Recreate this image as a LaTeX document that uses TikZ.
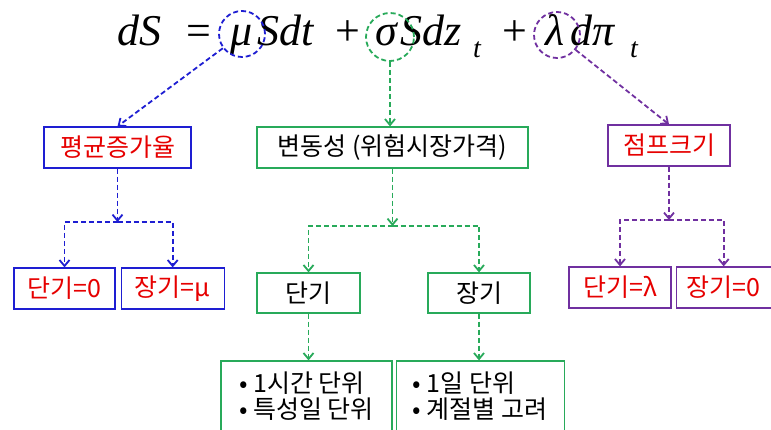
\documentclass[tikz,border=0pt]{standalone}
\usepackage{fontspec}
\usepackage{tikz}
\usetikzlibrary{arrows.meta, positioning}
\newfontfamily\krfont{Noto Sans CJK KR}
\newfontfamily\eqfont{Liberation Serif}
\definecolor{driftblue}{RGB}{30,30,210}
\definecolor{volgreen}{RGB}{40,170,90}
\definecolor{jumppurple}{RGB}{112,48,160}
\definecolor{labelred}{RGB}{230,0,0}

\begin{document}
\begin{tikzpicture}[
    x=1pt, y=-1pt,
    every node/.style={font=\krfont\fontsize{25}{26}\selectfont},
    term/.style={anchor=base west, inner sep=0pt, font=\eqfont\itshape\fontsize{44}{44}\selectfont},
    sign/.style={anchor=base west, inner sep=0pt, font=\eqfont\fontsize{44}{44}\selectfont},
    subterm/.style={anchor=base west, inner sep=0pt, font=\eqfont\itshape\fontsize{28}{28}\selectfont},
    ring/.style={circle, draw, dash pattern=on 5pt off 3pt, line width=1.8pt, minimum size=46pt, inner sep=0pt},
    box/.style={rectangle, draw, line width=1.2pt, minimum height=41pt, inner sep=0pt, text centered},
    arrow/.style={-{Straight Barb[length=6pt, width=10pt]}, line width=1.8pt, dash pattern=on 5pt off 3pt}
]

\clip (0,0) rectangle (771,430);

\node[term] (dS) at (117,46) {dS};
\node[sign] (eq) at (186,46) {=};
\node[term] (mu) at (230,46) {μ};
\node[term] (Sdt) at (257,46) {Sdt};
\node[sign] (plusa) at (335,46) {+};
\node[term] (sigma) at (375,46) {σ};
\node[term] (Sdz) at (400,46) {Sdz};
\node[subterm] (tz) at (473,58) {t};
\node[sign] (plusb) at (502,46) {+};
\node[term] (lambda) at (545,46) {λ};
\node[term] (dpi) at (570,46) {dπ};
\node[subterm] (tpi) at (630,58) {t};

\node[ring, draw=driftblue] (muring) at (242,34) {};
\node[ring, draw=volgreen, minimum size=48pt] (sigring) at (390,37) {};
\node[ring, draw=jumppurple] (lamring) at (557,35) {};

\node[box, draw=driftblue, text=labelred, minimum width=147pt] (drift) at (117.5,147.5) {평균증가율};
\node[box, draw=volgreen, minimum width=271pt] (vol) at (392.5,147.5) {변동성 (위험시장가격)};
\node[box, draw=jumppurple, text=labelred, minimum width=122pt] (jump) at (669,145.5) {점프크기};

\node[box, draw=driftblue, text=labelred, minimum width=101pt] (driftshort) at (64.5,288.5) {단기=0};
\node[box, draw=driftblue, text=labelred, minimum width=103pt, right=5pt of driftshort] (driftlong) {장기=μ};

\node[box, draw=volgreen, minimum width=103pt, minimum height=40pt] (volshort) at (308.5,293) {단기};
\node[box, draw=volgreen, minimum width=102pt, minimum height=40pt] (vollong) at (479,293) {장기};
\node[box, draw=volgreen, minimum width=171pt, minimum height=70pt, align=left] (volshortnote) at (306.5,396) {• 1시간 단위\\• 특성일 단위};
\node[box, draw=volgreen, minimum width=168pt, minimum height=70pt, align=left, right=3pt of volshortnote] (vollongnote) {• 1일 단위\\• 계절별 고려};

\node[box, draw=jumppurple, text=labelred, minimum width=102pt] (jumpshort) at (620,287.5) {단기=λ};
\node[box, draw=jumppurple, text=labelred, minimum width=95pt, right=4pt of jumpshort] (jumplong) {장기=0};

\coordinate (driftfork) at (117.5,222);
\coordinate (volfork) at (392.5,226);
\coordinate (jumpfork) at (669,220);

\draw[arrow, driftblue] (muring) -- (drift.north);
\draw[arrow, driftblue] (drift) -- (driftfork);
\draw[arrow, driftblue] (driftfork) -| (driftshort);
\draw[arrow, driftblue] (driftfork) -| (driftlong);

\draw[arrow, volgreen] (sigring) -- (sigring |- vol.north);
\draw[arrow, volgreen] (vol) -- (volfork);
\draw[arrow, volgreen] (volfork) -| (volshort);
\draw[arrow, volgreen] (volfork) -| (vollong);
\draw[arrow, volgreen] (volshort) -- (volshort |- volshortnote.north);
\draw[arrow, volgreen] (vollong) -- (vollong |- vollongnote.north);

\draw[arrow, jumppurple] (lamring) -- (jump.north);
\draw[arrow, jumppurple] (jump) -- (jumpfork);
\draw[arrow, jumppurple] (jumpfork) -| (jumpshort);
\draw[arrow, jumppurple] (jumpfork) -| (jumplong);

\end{tikzpicture}
\end{document}
